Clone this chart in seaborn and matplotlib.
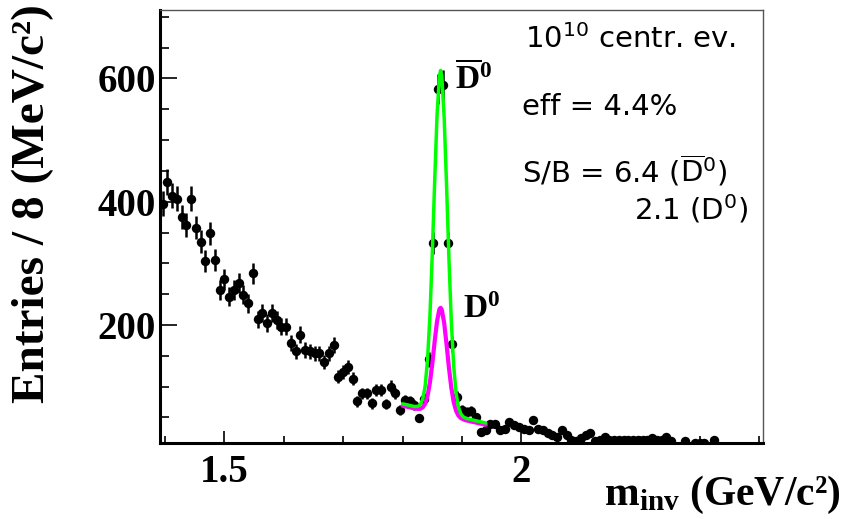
import numpy as np
import pandas as pd
import matplotlib
matplotlib.use("Agg")
import matplotlib.pyplot as plt
from matplotlib.ticker import MultipleLocator
import seaborn as sns

# invariant mass histogram, 8 MeV bins starting at 1.392 GeV
bin_lo = 1.392
bin_width = 0.008
counts = [397, 432, 410, 405, 375, 362, 405, 358, 335, 304,
          349, 305, 257, 274, 246, 257, 268, 249, 235, 284,
          209, 219, 203, 219, 208, 197, 197, 170, 157, 184,
          159, 157, 154, 154, 140, 154, 168, 116, 124, 132,
          113, 76, 89, 89, 73, 95, 95, 72, 100, 89,
          62, 78, 76, 70, 49, 80, 144, 333, 583, 590,
          333, 169, 83, 62, 59, 60, 50, 27, 30, 40,
          40, 30, 32, 43, 38, 35, 32, 30, 46, 32,
          30, 24, 22, 19, 30, 22, 13, 11, 16, 22,
          24, 11, 13, 19, 13, 13, 13, 13, 13, 14,
          14, 14, 14, 16, 14, 14, 19, 11, 0, 0,
          12, 0, 9, 9, 9, 0, 13]

# fit curves
fit_x = [1.800, 1.810, 1.820, 1.826, 1.830, 1.834, 1.838, 1.842, 1.846, 1.850,
         1.854, 1.858, 1.862, 1.864, 1.866, 1.870, 1.874, 1.878, 1.882, 1.886,
         1.890, 1.894, 1.898, 1.902, 1.906, 1.915, 1.925, 1.940]
fit_dbar = [72, 70, 67.7, 68, 71, 80, 101, 143, 214, 315,
            432, 540, 604, 613, 604, 537, 428, 309, 207, 134,
            90, 67, 56, 51, 49, 46.5, 44.3, 41]
fit_d = [69, 66.8, 64.6, 63.8, 64.1, 66.3, 72.3, 84.8, 106.4, 137.1,
         173.2, 206, 225.5, 227.9, 224.7, 203.4, 168.8, 131, 98.5, 75.1,
         60.8, 53, 49, 47, 45.5, 43.5, 41.3, 38]

sns.set_style("ticks")
plt.rcParams["text.color"] = "black"
plt.rcParams["xtick.color"] = "black"
plt.rcParams["ytick.color"] = "black"
plt.rcParams["mathtext.fontset"] = "custom"
plt.rcParams["mathtext.rm"] = "DejaVu Sans"
plt.rcParams["mathtext.it"] = "DejaVu Sans:italic"
plt.rcParams["mathtext.bf"] = "Liberation Serif:bold"

df = pd.DataFrame({"m": bin_lo + bin_width * (np.arange(len(counts)) + 0.5),
                   "n": counts})
df["err"] = np.sqrt(df["n"])
fit = pd.DataFrame({"m": fit_x, "dbar": fit_dbar, "d": fit_d})

fig = plt.figure(figsize=(8.46, 5.19), dpi=100)
ax = fig.add_axes([160 / 846, 1 - 443 / 519, 603.3 / 846, 433 / 519])

ax.errorbar(df["m"], df["n"], yerr=df["err"], fmt="none",
            ecolor="black", elinewidth=1.8, zorder=2)
sns.scatterplot(data=df, x="m", y="n", color="black", s=46,
                linewidth=0, ax=ax, zorder=3)
sns.lineplot(data=fit, x="m", y="d", color="#ff00ff", lw=3,
             estimator=None, ax=ax, zorder=4)
sns.lineplot(data=fit, x="m", y="dbar", color="#00ff00", lw=2.5,
             estimator=None, ax=ax, zorder=5)

ax.set_xlim(1.3916, 2.4073)
ax.set_ylim(8.5, 711)
ax.set_xticks([1.5, 2.0])
ax.set_xticklabels(["1.5", "2"])
ax.xaxis.set_minor_locator(MultipleLocator(0.1))
ax.set_yticks([200, 400, 600])
ax.yaxis.set_minor_locator(MultipleLocator(50))
ax.tick_params(axis="x", which="major", direction="in", length=9, width=1.2, pad=8)
ax.tick_params(axis="x", which="minor", direction="in", length=5, width=1.2)
ax.tick_params(axis="y", which="major", direction="in", length=12.5, width=1.2, pad=3)
ax.tick_params(axis="y", which="minor", direction="in", length=6.5, width=1.2)
for lab in ax.get_xticklabels() + ax.get_yticklabels():
    lab.set_fontfamily("Liberation Serif")
    lab.set_fontweight("bold")
    lab.set_fontsize(28)

for s in ["left", "bottom"]:
    ax.spines[s].set_linewidth(2.2)
    ax.spines[s].set_color("black")
for s in ["top", "right"]:
    ax.spines[s].set_linewidth(1.0)
    ax.spines[s].set_color("#555555")

ax.set_xlabel("")
ax.set_ylabel("")

fig.text(0.993, 0.027, r"$\mathbf{m_{inv}}$ (GeV/c²)", ha="right", va="baseline",
         fontfamily="Liberation Serif", fontweight="bold", fontsize=30)
fig.text(0.039, 0.608, "Entries / 8 (MeV/c²)", rotation=90, ha="center", va="center",
         fontfamily="Liberation Serif", fontweight="bold", fontsize=34)

# peak labels
ax.text(1.888, 584, r"$\mathbf{\overline{D}^{0}}$", fontsize=24, va="baseline", ha="left")
ax.text(1.9017, 211, r"$\mathbf{D^{0}}$", fontsize=24, va="baseline", ha="left")

# info box
sans = dict(fontfamily="DejaVu Sans", fontsize=21, transform=ax.transAxes, va="baseline")
ax.text(0.605, 0.912, r"$\mathrm{10^{10}}$ centr. ev.", ha="left", **sans)
ax.text(0.600, 0.7575, "eff = 4.4%", ha="left", **sans)
ax.text(0.600, 0.602, r"S/B = 6.4 ($\mathrm{\overline{D}^{0}}$)", ha="left", **sans)
ax.text(0.975, 0.516, r"2.1 ($\mathrm{D^{0}}$)", ha="right", **sans)

fig.savefig("out.png", dpi=100)
